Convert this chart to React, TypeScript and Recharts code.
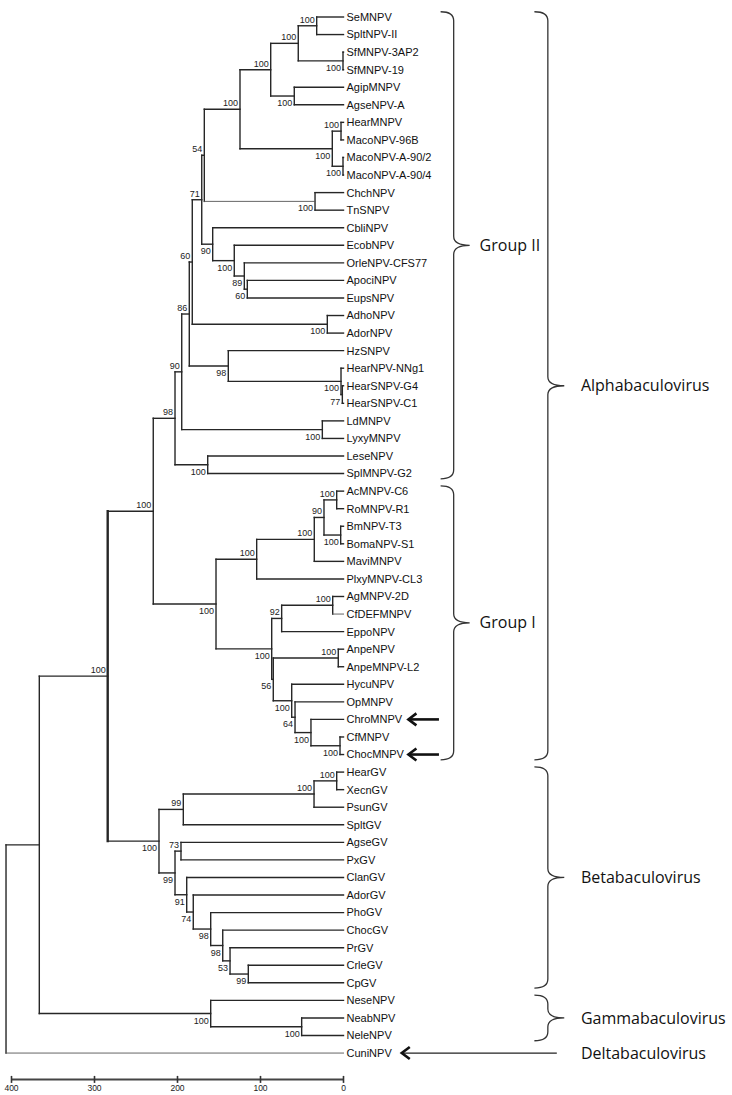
import React from 'react';
import { ScatterChart, Scatter, XAxis, YAxis, ReferenceLine, ReferenceDot, ReferenceArea } from 'recharts';

// ---------- data ----------
const leafNames: string[] = [
  'SeMNPV', 'SpltNPV-II', 'SfMNPV-3AP2', 'SfMNPV-19', 'AgipMNPV', 'AgseNPV-A', 'HearMNPV', 'MacoNPV-96B',
  'MacoNPV-A-90/2', 'MacoNPV-A-90/4', 'ChchNPV', 'TnSNPV', 'CbliNPV', 'EcobNPV', 'OrleNPV-CFS77', 'ApociNPV',
  'EupsNPV', 'AdhoNPV', 'AdorNPV', 'HzSNPV', 'HearNPV-NNg1', 'HearSNPV-G4', 'HearSNPV-C1', 'LdMNPV', 'LyxyMNPV',
  'LeseNPV', 'SplMNPV-G2', 'AcMNPV-C6', 'RoMNPV-R1', 'BmNPV-T3', 'BomaNPV-S1', 'MaviMNPV', 'PlxyMNPV-CL3',
  'AgMNPV-2D', 'CfDEFMNPV', 'EppoNPV', 'AnpeNPV', 'AnpeMNPV-L2', 'HycuNPV', 'OpMNPV', 'ChroMNPV', 'CfMNPV',
  'ChocMNPV', 'HearGV', 'XecnGV', 'PsunGV', 'SpltGV', 'AgseGV', 'PxGV', 'ClanGV', 'AdorGV', 'PhoGV', 'ChocGV',
  'PrGV', 'CrleGV', 'CpGV', 'NeseNPV', 'NeabNPV', 'NeleNPV', 'CuniNPV',
];

type TreeNode = [string, number, string[], number | null]; // id, distance, children, bootstrap

const groupIINodes: TreeNode[] = [
  ['n1', 32.3, ['SeMNPV', 'SpltNPV-II'], 100],
  ['n2', 0.6, ['SfMNPV-3AP2', 'SfMNPV-19'], 100],
  ['n3', 54.5, ['n1', 'n2'], 100],
  ['n4', 59.3, ['AgipMNPV', 'AgseNPV-A'], 100],
  ['n5', 87.7, ['n3', 'n4'], 100],
  ['n6', 3.0, ['HearMNPV', 'MacoNPV-96B'], 100],
  ['n7', 0.6, ['MacoNPV-A-90/2', 'MacoNPV-A-90/4'], 100],
  ['n8', 13.5, ['n6', 'n7'], 100],
  ['n9', 124.7, ['n5', 'n8'], 100],
  ['n10', 34.3, ['ChchNPV', 'TnSNPV'], 100],
  ['n11', 167.7, ['n9', 'n10'], 54],
  ['n12', 115.9, ['ApociNPV', 'EupsNPV'], 60],
  ['n13', 119.5, ['OrleNPV-CFS77', 'n12'], 89],
  ['n14', 131.6, ['EcobNPV', 'n13'], 100],
  ['n15', 157.6, ['CbliNPV', 'n14'], 90],
  ['n16', 170.8, ['n11', 'n15'], 71],
  ['n17', 19.5, ['AdhoNPV', 'AdorNPV'], 100],
  ['n18', 182.2, ['n16', 'n17'], 60],
  ['n19', 1.4, ['HearSNPV-G4', 'HearSNPV-C1'], 77],
  ['n20', 3.0, ['HearNPV-NNg1', 'n19'], 100],
  ['n21', 138.8, ['HzSNPV', 'n20'], 98],
  ['n22', 185.8, ['n18', 'n21'], 86],
  ['n23', 25.5, ['LdMNPV', 'LyxyMNPV'], 100],
  ['n24', 194.9, ['n22', 'n23'], 90],
  ['n25', 163.6, ['LeseNPV', 'SplMNPV-G2'], 100],
  ['n26', 203.0, ['n24', 'n25'], 98],
];

const groupINodes: TreeNode[] = [
  ['g1', 8.2, ['AcMNPV-C6', 'RoMNPV-R1'], 100],
  ['g2', 3.4, ['BmNPV-T3', 'BomaNPV-S1'], 100],
  ['g3', 23.5, ['g1', 'g2'], 90],
  ['g4', 35.2, ['g3', 'MaviMNPV'], 100],
  ['g5', 104.6, ['g4', 'PlxyMNPV-CL3'], 100],
  ['g6', 13.0, ['AgMNPV-2D', 'CfDEFMNPV'], 100],
  ['g7', 74.5, ['g6', 'EppoNPV'], 92],
  ['g8', 6.3, ['AnpeNPV', 'AnpeMNPV-L2'], 100],
  ['g9', 4.2, ['CfMNPV', 'ChocMNPV'], 100],
  ['g10', 39.2, ['ChroMNPV', 'g9'], 100],
  ['g11', 58.4, ['OpMNPV', 'g10'], 64],
  ['g12', 62.4, ['HycuNPV', 'g11'], 100],
  ['g13', 84.6, ['g8', 'g12'], 56],
  ['g14', 86.5, ['g7', 'g13'], 100],
  ['g15', 153.6, ['g5', 'g14'], 100],
];

const betaNodes: TreeNode[] = [
  ['b1', 8.2, ['HearGV', 'XecnGV'], 100],
  ['b2', 35.5, ['b1', 'PsunGV'], 100],
  ['b3', 193.0, ['b2', 'SpltGV'], 99],
  ['b4', 195.8, ['AgseGV', 'PxGV'], 73],
  ['b5', 114.7, ['CrleGV', 'CpGV'], 99],
  ['b6', 136.7, ['PrGV', 'b5'], 53],
  ['b7', 145.5, ['ChocGV', 'b6'], 98],
  ['b8', 160.0, ['PhoGV', 'b7'], 98],
  ['b9', 181.0, ['AdorGV', 'b8'], 74],
  ['b10', 188.9, ['ClanGV', 'b9'], 91],
  ['b11', 203.0, ['b4', 'b10'], 99],
  ['b12', 222.3, ['b3', 'b11'], 100],
];

const gammaNodes: TreeNode[] = [
  ['c1', 50.4, ['NeabNPV', 'NeleNPV'], 100],
  ['c2', 160.0, ['NeseNPV', 'c1'], 100],
];

const backboneNodes: TreeNode[] = [
  ['alpha', 229.2, ['n26', 'g15'], 100],
  ['ab', 284.1, ['alpha', 'b12'], 100],
  ['bac', 366.5, ['ab', 'c2'], null],
  ['root', 406.6, ['bac', 'CuniNPV'], null],
];

const scaleTicks: number[] = [400, 300, 200, 100, 0];

// brackets: label, first leaf, last leaf, column (0 inner, 1 outer)
const bracketLabels: string[] = ['Group II', 'Group I', 'Alphabaculovirus', 'Betabaculovirus', 'Gammabaculovirus'];
const bracketFirst: string[] = ['SeMNPV', 'AcMNPV-C6', 'SeMNPV', 'HearGV', 'NeseNPV'];
const bracketLast: string[] = ['SplMNPV-G2', 'ChocMNPV', 'ChocMNPV', 'CpGV', 'NeleNPV'];
const bracketColumn: number[] = [0, 0, 1, 1, 1];

const pointedLeaves: string[] = ['ChroMNPV', 'ChocMNPV'];
const outgroupLabel = 'Deltabaculovirus';
const outgroupLeaf = 'CuniNPV';

// ---------- layout / style ----------
const supportAbove = new Set([
  'n1', 'n3', 'n5', 'n6', 'n9', 'n11', 'n16', 'n18', 'n22', 'n24', 'n26',
  'g1', 'g3', 'g4', 'g5', 'g6', 'g7', 'g8', 'alpha', 'ab', 'b1', 'b2', 'b3', 'b4',
]);
const thinEdges = new Set(['n10', 'CuniNPV', 'CfDEFMNPV']);
const boldVerticals = new Set(['ab']);
const columnX: [number, number, number][] = [
  // left end, tip, text start (axis units; negative = right of the tips)
  [-117, -152, -164],
  [-230, -266, -286],
];
const LEAF_FONT = "'Liberation Sans', Arial, Helvetica, sans-serif";
const GROUP_FONT = "'Open Sans', 'Liberation Sans', sans-serif";
const INK = '#262626';

// ---------- tree computation ----------
const allNodes: TreeNode[] = [...groupIINodes, ...groupINodes, ...betaNodes, ...gammaNodes, ...backboneNodes];
const dist = new Map<string, number>();
const kids = new Map<string, string[]>();
const leafIndex = new Map<string, number>();
leafNames.forEach((n, i) => { dist.set(n, 0); leafIndex.set(n, i); });
allNodes.forEach(([id, d, ch]) => { dist.set(id, d); kids.set(id, ch); });
const yCache = new Map<string, number>();
function yOf(id: string): number {
  if (leafIndex.has(id)) return leafIndex.get(id) as number;
  if (yCache.has(id)) return yCache.get(id) as number;
  const ch = kids.get(id) as string[];
  const v = (yOf(ch[0]) + yOf(ch[ch.length - 1])) / 2;
  yCache.set(id, v);
  return v;
}

type Seg = { key: string; x1: number; y1: number; x2: number; y2: number; w: number; c: string };
const segments: Seg[] = [];
allNodes.forEach(([id, d, ch]) => {
  segments.push({
    key: `v-${id}`, x1: d, y1: yOf(ch[0]), x2: d, y2: yOf(ch[ch.length - 1]),
    w: boldVerticals.has(id) ? 2.4 : 1.4, c: INK,
  });
  ch.forEach((c) => {
    const thin = thinEdges.has(c);
    segments.push({
      key: `h-${id}-${c}`, x1: d, y1: yOf(c), x2: dist.get(c) as number, y2: yOf(c),
      w: thin ? 0.9 : 1.4, c: thin ? '#555' : INK,
    });
  });
});

const leafTips = leafNames.map((n, i) => ({ x: 0, y: i }));

function bracePath(x: number, y: number, w: number, h: number): string {
  const sx = x + w * 0.45;
  const tx = x + w;
  const mid = y + h / 2;
  const r = Math.min(9, h / 4);
  return `M${x},${y} Q${sx},${y} ${sx},${y + r} L${sx},${mid - r} Q${sx},${mid} ${tx},${mid} ` +
    `Q${sx},${mid} ${sx},${mid + r} L${sx},${y + h - r} Q${sx},${y + h} ${x},${y + h}`;
}

const XTick = (props: any) => {
  const { x, y, payload } = props;
  return (
    <g>
      <line x1={x} x2={x} y1={y - 3.5} y2={y + 3.5} stroke="#333" strokeWidth={1.6} />
      <text x={x} y={y + 11.5} textAnchor="middle" fontSize={8.5} fontFamily={LEAF_FONT} fill="#222">
        {payload.value}
      </text>
    </g>
  );
};

const Chevron = (props: any) => (
  <path
    d={`M${props.cx + 9},${props.cy - 6} L${props.cx + 1},${props.cy} L${props.cx + 9},${props.cy + 6}`}
    fill="none" stroke="#111" strokeWidth={2.6} strokeLinejoin="miter"
  />
);

export default function App() {
  return (
    <div style={{ position: 'absolute', left: 0, top: 0, background: '#fff' }}>
      <ScatterChart width={732} height={1095} margin={{ top: 8.22, right: 8.5, bottom: 0.6, left: 11.5 }}>
        <XAxis
          type="number" dataKey="x" domain={[0, 400]} reversed ticks={scaleTicks} interval={0}
          height={15} tickSize={0} tickMargin={0} tickLine={false}
          axisLine={{ stroke: '#444', strokeWidth: 2 }} tick={<XTick />}
        />
        <YAxis
          type="number" dataKey="y" orientation="right" domain={[-0.5, 60.5]} reversed
          ticks={leafNames.map((_, i) => i)} interval={0} width={380}
          tickFormatter={(v: number) => leafNames[v]} axisLine={false} tickLine={false}
          tickSize={0} tickMargin={3}
          tick={{ fontSize: 11, fill: '#111', fontFamily: LEAF_FONT }}
        />
        <Scatter data={leafTips} isAnimationActive={false} shape={() => <g />} />

        {segments.map((s) => (
          <ReferenceLine
            key={s.key} ifOverflow="visible"
            segment={[{ x: s.x1, y: s.y1 }, { x: s.x2, y: s.y2 }]}
            stroke={s.c} strokeWidth={s.w} strokeLinecap="square"
          />
        ))}

        {allNodes.filter((n) => n[3] !== null).map(([id, d, , sup]) => (
          <ReferenceDot
            key={`s-${id}`} x={d} y={yOf(id)} r={0} ifOverflow="visible"
            shape={(p: any) => (
              <text
                x={p.cx - 2} y={p.cy + (supportAbove.has(id) ? -3 : 10)} textAnchor="end"
                fontSize={9} fontFamily={LEAF_FONT} fill="#222"
              >
                {sup}
              </text>
            )}
          />
        ))}

        {bracketLabels.map((lab, i) => {
          const [left, tip, textX] = columnX[bracketColumn[i]];
          const top = yOf(bracketFirst[i]) - 0.3;
          const bottom = yOf(bracketLast[i]) + 0.3;
          return (
            <React.Fragment key={`br-${lab}`}>
              <ReferenceArea
                x1={left} x2={tip} y1={top} y2={bottom} ifOverflow="visible"
                shape={(p: any) => (
                  <path d={bracePath(p.x, p.y, p.width, p.height)} fill="none" stroke="#333" strokeWidth={1.3} />
                )}
              />
              <ReferenceDot
                x={textX} y={(top + bottom) / 2} r={0} ifOverflow="visible"
                shape={(p: any) => (
                  <text x={p.cx} y={p.cy} dy="0.35em" fontSize={16} fontFamily={GROUP_FONT} fill="#111">{lab}</text>
                )}
              />
            </React.Fragment>
          );
        })}

        {pointedLeaves.map((n) => (
          <React.Fragment key={`ar-${n}`}>
            <ReferenceLine
              ifOverflow="visible" segment={[{ x: -78, y: yOf(n) }, { x: -115, y: yOf(n) }]}
              stroke="#111" strokeWidth={2.6}
            />
            <ReferenceDot x={-77} y={yOf(n)} r={0} ifOverflow="visible" shape={<Chevron />} />
          </React.Fragment>
        ))}

        <ReferenceLine
          ifOverflow="visible" segment={[{ x: -70, y: yOf(outgroupLeaf) }, { x: -257, y: yOf(outgroupLeaf) }]}
          stroke="#222" strokeWidth={1.2}
        />
        <ReferenceDot x={-69} y={yOf(outgroupLeaf)} r={0} ifOverflow="visible" shape={<Chevron />} />
        <ReferenceDot
          x={columnX[1][2]} y={yOf(outgroupLeaf)} r={0} ifOverflow="visible"
          shape={(p: any) => (
            <text x={p.cx} y={p.cy} dy="0.35em" fontSize={16} fontFamily={GROUP_FONT} fill="#111">{outgroupLabel}</text>
          )}
        />
      </ScatterChart>
    </div>
  );
}
